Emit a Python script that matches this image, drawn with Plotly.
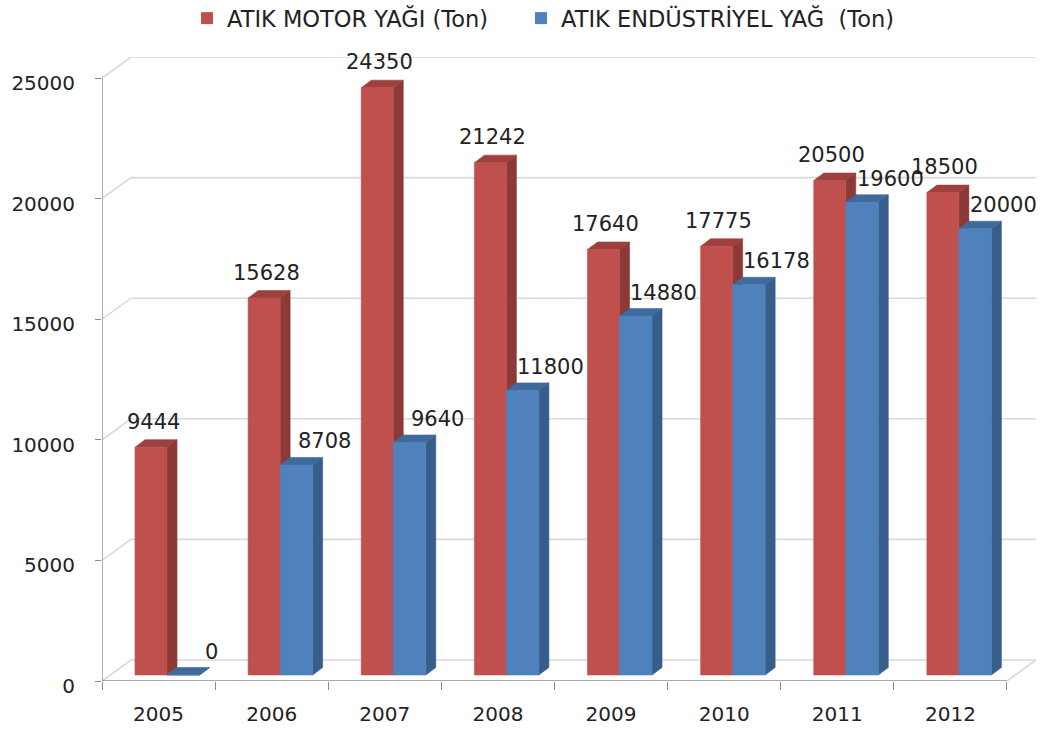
import plotly.graph_objects as go

# ---------------- data ----------------
years = ["2005", "2006", "2007", "2008", "2009", "2010", "2011", "2012"]
# bar heights as drawn in the reference
motor = [9444, 15628, 24350, 21242, 17640, 17775, 20500, 20000]
endustriyel = [0, 8708, 9640, 11800, 14880, 16178, 19600, 18500]
# value labels as printed in the reference (2012 labels appear swapped there)
motor_labels = ["9444", "15628", "24350", "21242", "17640", "17775", "20500", "18500"]
endustriyel_labels = ["0", "8708", "9640", "11800", "14880", "16178", "19600", "20000"]
y_ticks = [0, 5000, 10000, 15000, 20000, 25000]
series_names = ["ATIK MOTOR YAĞI (Ton)", "ATIK ENDÜSTRİYEL YAĞ  (Ton)"]

# ---------------- geometry / style ----------------
W, H = 1045, 731
M_L, M_R, M_T, M_B = 102, 8.6, 57, 50
PLOT_W = W - M_L - M_R
PLOT_H = H - M_T - M_B
N = len(years)
Y_MAX = max(y_ticks)
PX_CAT = 113.1                      # px per category
WALL_DX = 29 / PX_CAT               # depth of the back wall (x units)
WALL_DY_PX = 21
Y_TOP = Y_MAX + WALL_DY_PX * (Y_MAX / (PLOT_H - WALL_DY_PX))
PX_Y = PLOT_H / Y_TOP               # px per value unit
WALL_DY = WALL_DY_PX / PX_Y
BASE = 6 / PX_Y                     # bars stand a little inside the floor
BAR_DX = 10 / PX_CAT
BAR_DY = 7.5 / PX_Y
RED_X0, MID_X, BLUE_X1 = 33 / PX_CAT, 65 / PX_CAT, 97.5 / PX_CAT

RED = ("#C0504D", "#8C3A38", "#9E403D")     # front, side, top
BLUE = ("#4F81BD", "#375D8B", "#3F6A9C")
GRID = "#D9D9D9"
AXIS = "#8C8C8C"
TXT = "#222222"
FONT = "DejaVu Sans"

fig = go.Figure()

# legend entries (one legend box per series, placed like the reference)
for name, col, lg in zip(series_names, [RED[0], BLUE[0]], ["legend", "legend2"]):
    fig.add_trace(go.Scatter(x=[None], y=[None], mode="markers", name=name, legend=lg,
                             marker=dict(symbol="square", size=12, color=col),
                             showlegend=True))

# back wall gridlines + floor
wx, wy = [], []
for v in y_ticks:
    wx += [0, WALL_DX, N + WALL_DX, None]
    wy += [v, v + WALL_DY, v + WALL_DY, None]
wx += [N, N + WALL_DX, None]
wy += [0, WALL_DY, None]
fig.add_trace(go.Scatter(x=wx, y=wy, mode="lines", line=dict(color=GRID, width=1.6),
                         hoverinfo="skip", showlegend=False))
fig.add_trace(go.Scatter(x=[0, N, None, 0, 0], y=[0, 0, None, 0, Y_MAX], mode="lines",
                         line=dict(color=AXIS, width=1.4), hoverinfo="skip", showlegend=False))


def faces(values, x_left, x_right):
    fx, fy, sx, sy, tx, ty = [], [], [], [], [], []
    for i, v in enumerate(values):
        x0, x1 = i + x_left, i + x_right
        b, t = BASE, BASE + v
        fx += [x0, x1, x1, x0, x0, None]
        fy += [b, b, t, t, b, None]
        sx += [x1, x1 + BAR_DX, x1 + BAR_DX, x1, x1, None]
        sy += [b, b + BAR_DY, t + BAR_DY, t, b, None]
        tx += [x0, x1, x1 + BAR_DX, x0 + BAR_DX, x0, None]
        ty += [t, t, t + BAR_DY, t + BAR_DY, t, None]
    return (fx, fy), (sx, sy), (tx, ty)


def poly(xy, col, name):
    return go.Scatter(x=xy[0], y=xy[1], mode="lines", fill="toself", fillcolor=col,
                      line=dict(color=col, width=0.6), name=name,
                      hoverinfo="skip", showlegend=False)


for vals, cols, x_l, x_r, name in [(motor, RED, RED_X0, MID_X, series_names[0]),
                                    (endustriyel, BLUE, MID_X, BLUE_X1, series_names[1])]:
    front, side, top = faces(vals, x_l, x_r)
    fig.add_trace(poly(side, cols[1], name))
    fig.add_trace(poly(top, cols[2], name))
    fig.add_trace(poly(front, cols[0], name))
    # invisible hover points
    fig.add_trace(go.Scatter(x=[i + (x_l + x_r) / 2 for i in range(N)],
                             y=[BASE + v / 2 for v in vals], mode="markers",
                             marker=dict(size=1, opacity=0), name=name,
                             customdata=[[years[i], vals[i]] for i in range(N)],
                             hovertemplate="%{customdata[0]}: %{customdata[1]}<extra>" + name + "</extra>",
                             showlegend=False))

# value labels
for vals, labels, x_l, x_r, xs, ys in [(motor, motor_labels, RED_X0, MID_X, 2, 18),
                                        (endustriyel, endustriyel_labels, MID_X, BLUE_X1, 28, 16)]:
    for i, (v, lab) in enumerate(zip(vals, labels)):
        fig.add_annotation(x=i + (x_l + x_r) / 2, y=BASE + v + BAR_DY, text=lab,
                           showarrow=False, xshift=xs, yshift=ys, xanchor="center",
                           yanchor="middle", font=dict(family=FONT, size=21, color=TXT))

LEG_TOP = -3   # px, legend box top in figure coordinates
legend_common = dict(orientation="h", xref="container", yref="paper",
                     y=(PLOT_H + M_T - LEG_TOP) / PLOT_H,
                     xanchor="left", yanchor="top", font=dict(family=FONT, size=22.5, color=TXT),
                     itemwidth=30, bgcolor="rgba(0,0,0,0)")

fig.update_layout(
    width=W, height=H,
    margin=dict(l=M_L, r=M_R, t=M_T, b=M_B, pad=0, autoexpand=False),
    paper_bgcolor="white", plot_bgcolor="white",
    font=dict(family=FONT, color=TXT),
    showlegend=True,
    legend=dict(x=187 / W, **legend_common),
    legend2=dict(x=521 / W, **legend_common),
    xaxis=dict(range=[0, N + WALL_DX], tickvals=list(range(N + 1)),
               ticktext=[""] * (N + 1), ticks="outside", ticklen=8, tickcolor=AXIS,
               tickwidth=1.4, showgrid=False, zeroline=False, showline=False,
               fixedrange=True, automargin=False),
    xaxis2=dict(range=[0, N + WALL_DX], overlaying="x", anchor="y", side="bottom",
                tickvals=[i + 0.5 for i in range(N)], ticktext=years, ticks="",
                ticklabelstandoff=19, tickfont=dict(size=20, color=TXT),
                showgrid=False, zeroline=False, showline=False, matches="x",
                automargin=False),
    yaxis=dict(range=[0, Y_TOP], tickvals=y_ticks, ticktext=[str(v) for v in y_ticks],
               ticks="outside", ticklen=6, tickcolor=AXIS, tickwidth=1.4,
               ticklabelstandoff=16, ticklabelshift=5, tickfont=dict(size=20, color=TXT),
               showgrid=False, zeroline=False, showline=False, fixedrange=True,
               automargin=False),
)
# give the year-label axis a trace reference so it renders
fig.add_trace(go.Scatter(x=[None], y=[None], xaxis="x2", showlegend=False, hoverinfo="skip"))

# remove the browser's default 8px body margin so the figure fills the window
fig.write_html("out.html", config={"displayModeBar": False},
               post_script="document.body.style.margin='0';document.body.style.padding='0';")
